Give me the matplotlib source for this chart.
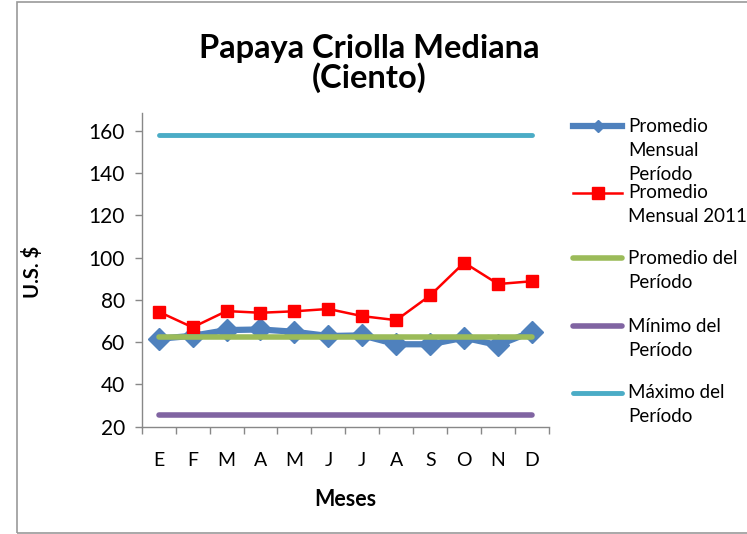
import matplotlib
matplotlib.use("Agg")
import matplotlib.pyplot as plt
from matplotlib.lines import Line2D
from matplotlib.patches import Rectangle
import numpy as np

plt.rcParams['font.family'] = ['Lato', 'DejaVu Sans']

meses = ["E", "F", "M", "A", "M", "J", "J", "A", "S", "O", "N", "D"]
prom_mensual_periodo = [61.6, 63.0, 65.7, 66.0, 64.9, 62.9, 63.2, 59.0, 59.0, 62.1, 58.6, 65.0]
prom_mensual_2011 = [74.4, 67.0, 74.7, 73.9, 74.6, 75.7, 72.3, 70.4, 82.1, 97.6, 87.5, 88.8]
prom_periodo = 62.6
min_periodo = 25.5
max_periodo = 157.8

labels = ["Promedio\nMensual\nPeríodo", "Promedio\nMensual 2011",
          "Promedio del\nPeríodo", "Mínimo del\nPeríodo", "Máximo del\nPeríodo"]

W, H = 747, 534
fig = plt.figure(figsize=(W / 100, H / 100), dpi=100)
ax = fig.add_axes([141.7 / W, 1 - 426.7 / H, (549 - 141.7) / W, (426.7 - 113) / H])

x = np.arange(len(meses))
ones = np.ones(len(meses))

ax.plot(x, prom_mensual_periodo, color="#4F81BD", lw=4.5, marker="D", ms=11,
        solid_joinstyle="round", zorder=2)
ax.plot(x, prom_mensual_2011, color="#FF0000", lw=1.8, marker="s", ms=8.5, zorder=3)
ax.plot(x, prom_periodo * ones, color="#9BBB59", lw=4, solid_capstyle="round", zorder=4)
ax.plot(x, min_periodo * ones, color="#8064A2", lw=4, solid_capstyle="round", zorder=4)
ax.plot(x, max_periodo * ones, color="#4BACC6", lw=3.5, solid_capstyle="round", zorder=4)

ax.set_xlim(-0.5, len(meses) - 0.5)
ax.set_ylim(20, 168.4)
ax.set_yticks(range(20, 161, 20))
ax.set_xticks(x)
ax.set_xticklabels(meses, fontsize=14)
ax.set_xticks(np.arange(-0.5, len(meses)), minor=True)
ax.tick_params(axis="x", which="major", length=0, pad=18)
ax.tick_params(axis="x", which="minor", length=5, color="#888888", width=1)
ax.tick_params(axis="y", length=5, color="#888888", width=1, labelsize=15, pad=7)
for s in ["top", "right"]:
    ax.spines[s].set_visible(False)
for s in ["left", "bottom"]:
    ax.spines[s].set_color("#888888")
    ax.spines[s].set_linewidth(1)

ax.set_ylabel("U.S. $", fontsize=14.5, fontweight="bold")
ax.yaxis.set_label_coords(43 / W, 1 - 272 / H, transform=fig.transFigure)
fig.text(345 / W, 1 - 499 / H, "Meses", fontsize=15.5, fontweight="bold",
         ha="center", va="center")

fig.text(369.5 / W, 1 - 58 / H, "Papaya Criolla Mediana", fontsize=23.5,
         fontweight="bold", ha="center", va="baseline")
fig.text(369.5 / W, 1 - 88 / H, "(Ciento)", fontsize=23.5,
         fontweight="bold", ha="center", va="baseline")

# legend drawn by hand so the key sits on the first text line
styles = [dict(color="#4F81BD", lw=4.5, marker="D", ms=6),
          dict(color="#FF0000", lw=1.8, marker="s", ms=8.5),
          dict(color="#9BBB59", lw=4, solid_capstyle="round"),
          dict(color="#8064A2", lw=4, solid_capstyle="round"),
          dict(color="#4BACC6", lw=3.5, solid_capstyle="round")]
rows = [126, 193, 258, 326, 393]
for lab, st, yy in zip(labels, styles, rows):
    fy = 1 - yy / H
    ln = Line2D([573 / W, 622 / W], [fy, fy], transform=fig.transFigure,
                markevery=[1] if "marker" in st else None, **st)
    if "marker" in st:
        ln.set_data([573 / W, 597.5 / W, 622 / W], [fy, fy, fy])
    fig.add_artist(ln)
    for i, part in enumerate(lab.split("\n")):
        fig.text(628 / W, 1 - (yy + 24 * i) / H, part, fontsize=13.5,
                 ha="left", va="center")

fig.add_artist(Rectangle((17 / W, 1 - 533 / H), 1, (531) / H, transform=fig.transFigure,
                         fill=False, edgecolor="#999999", lw=1.2))

fig.savefig("out.png", dpi=100)
